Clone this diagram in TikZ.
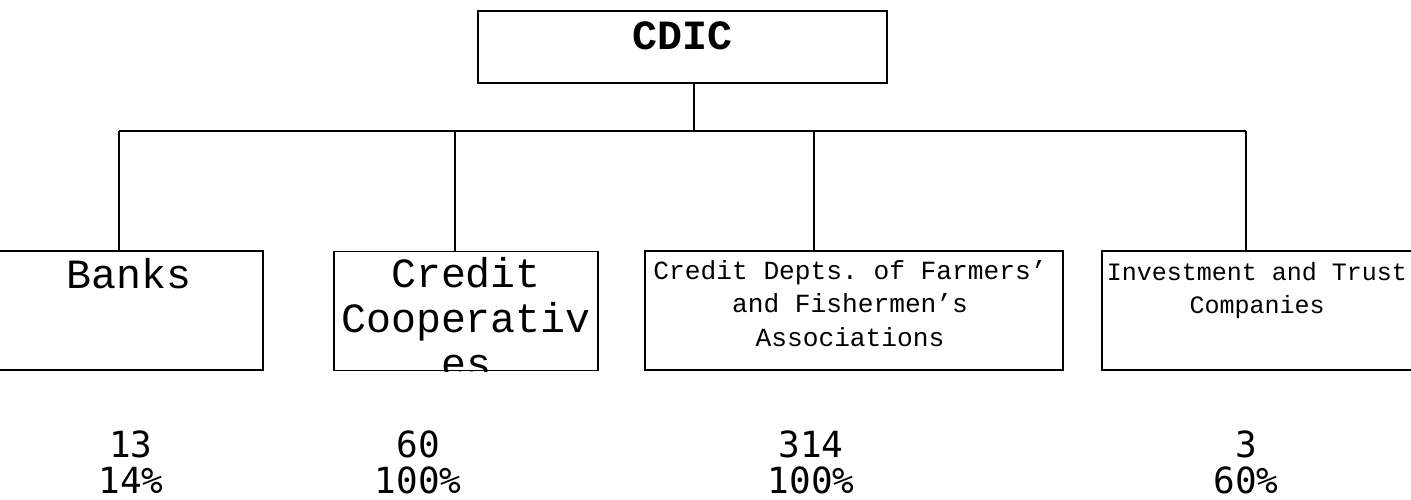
\documentclass[tikz,border=0pt]{standalone}
\usepackage{fontspec}
\setmonofont{Liberation Mono}
\newfontfamily\numfont{DejaVu Sans Mono}
\usetikzlibrary{calc}
\tikzset{
  unitbox/.style={draw,line width=0.7pt,inner sep=0pt,minimum height=59.5pt},
  boxtext/.style={anchor=base,inner sep=0pt,align=center,font=\ttfamily},
  bigtext/.style={boxtext,font=\ttfamily\fontsize{20.8}{22.5}\selectfont},
  smalltext/.style={boxtext,font=\ttfamily\fontsize{13.1}{16.7}\selectfont},
  numtext/.style={anchor=base,inner sep=0pt,align=center,font=\numfont\fontsize{18}{18}\selectfont},
  link/.style={line width=0.7pt}
}

\begin{document}
\begin{tikzpicture}[x=0.5pt,y=-0.5pt]
  \useasboundingbox (0,0) rectangle (1411,499);
  % top box
  \node[unitbox,minimum width=204.5pt,minimum height=36pt] (cdic) at (682.5,47) {};
  \node[bigtext,font=\ttfamily\bfseries\fontsize{20.8}{22.5}\selectfont] (cdiclbl) at (682.5,49) {CDIC};
  % the four groups of institutions
  \node[unitbox,minimum width=134pt] (banks) at (129,310.5) {};
  \node[unitbox,minimum width=132pt] (coop) at (466,311) {};
  \node[unitbox,minimum width=209pt] (farm) at (854,310.5) {};
  \node[unitbox,minimum width=155pt] (invest) at (1257,310.5) {};
  % (base = last line of each label)
  \node[bigtext] (bankslbl) at (129,288) {Banks};
  \begin{scope}
    \clip (coop.south west) rectangle (coop.north east);
    \node[bigtext] (cooplbl) at (466,377) {Credit\\Cooperativ\\es};
  \end{scope}
  \node[smalltext] (farmlbl) at (850,346) {Credit Depts. of Farmers’\\and Fishermen’s\\Associations};
  \node[smalltext,font=\ttfamily\fontsize{12.5}{16.5}\selectfont] (investlbl) at (1257,313) {Investment and Trust\\Companies};
  % connectors
  \coordinate (j) at (694,131);
  \coordinate (d1) at (119,131);
  \coordinate (d2) at (455,131);
  \coordinate (d3) at (814,131);
  \coordinate (d4) at (1246,131);
  \draw[link] (cdic.south -| j) -- (j);
  \draw[link] (d1) -- (d4);
  \draw[link] (d1) -- (d1 |- banks.north);
  \draw[link] (d2) -- (d2 |- coop.north);
  \draw[link] (d3) -- (d3 |- farm.north);
  \draw[link] (d4) -- (d4 |- invest.north);
  % counts and shares
  \node[numtext] (n1) at (131,493) {13\\14\%};
  \node[numtext] (n2) at (418,493) {60\\100\%};
  \node[numtext] (n3) at (811,493) {314\\100\%};
  \node[numtext] (n4) at (1246,493) {3\\60\%};
\end{tikzpicture}
\end{document}
